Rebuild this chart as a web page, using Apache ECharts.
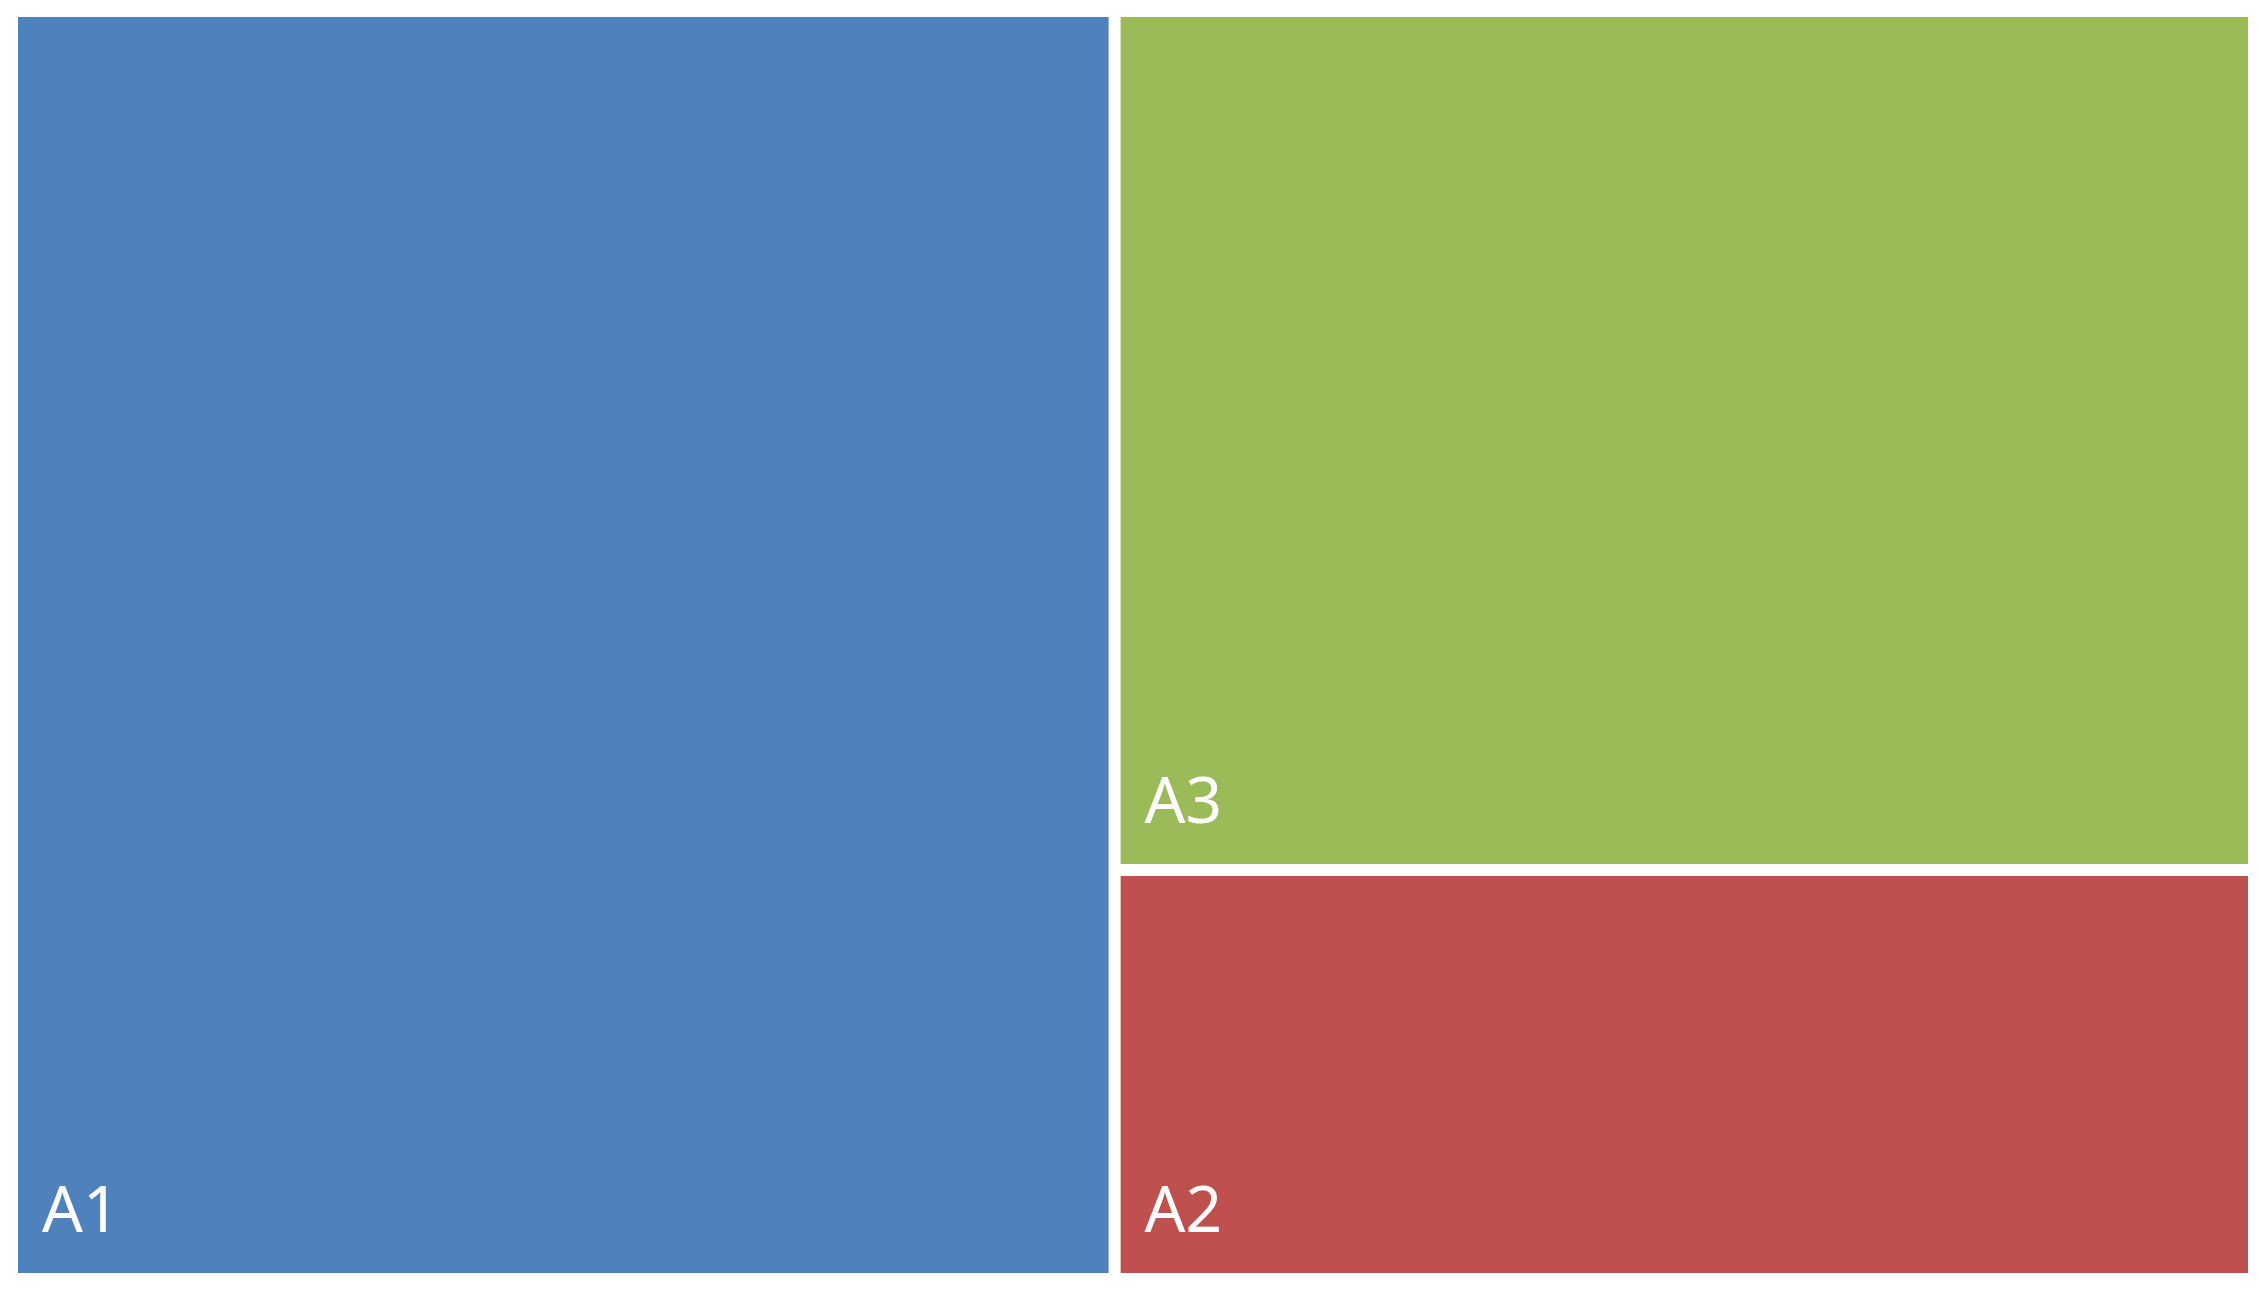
<!DOCTYPE html>
<html>
<head>
<meta charset="utf-8">
<title>Treemap</title>
<script src="https://cdn.jsdelivr.net/npm/echarts@6/dist/echarts.min.js"></script>
<style>
  html, body { margin: 0; padding: 0; background: #fff; }
  #chart { width: 2260px; height: 1300px; }
</style>
</head>
<body>
<div id="chart"></div>
<script>
// leaf names, sizes and fills
const names = ['A1', 'A2', 'A3']
const values = [30, 10, 21]
const colors = ['#4F81BD', '#C0504D', '#9BBB59']

const chart = echarts.init(document.getElementById('chart'))

const data = names.map((name, i) => ({
  name: name,
  value: values[i],
  itemStyle: { color: colors[i] }
}))

chart.setOption({
  backgroundColor: '#ffffff',
  animation: false,
  series: [
    {
      type: 'treemap',
      left: 18,
      top: 17,
      width: 2230,
      height: 1256,
      roam: false,
      nodeClick: false,
      breadcrumb: { show: false },
      squareRatio: 1,
      levels: [
        { itemStyle: { borderWidth: 0, gapWidth: 12 } }
      ],
      itemStyle: { borderWidth: 0 },
      label: {
        show: true,
        position: 'insideBottomLeft',
        distance: 20,
        offset: [4, -7],
        color: '#ffffff',
        fontFamily: 'Noto Sans',
        fontSize: 64,
        lineHeight: 64,
        padding: 0
      },
      data: data
    }
  ]
})
</script>
</body>
</html>
